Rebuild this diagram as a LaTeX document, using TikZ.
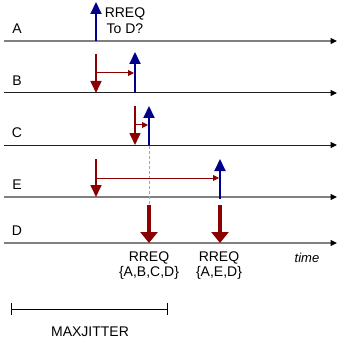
\documentclass[tikz,border=0pt]{standalone}
\usepackage{fontspec}
\setmainfont{Liberation Sans}
\usetikzlibrary{arrows.meta}
\definecolor{dred}{HTML}{8B0000}
\definecolor{dblue}{HTML}{00008B}
\definecolor{lgray}{HTML}{808080}
\definecolor{dgray}{HTML}{202020}
\begin{document}
\begin{tikzpicture}[x=1pt,y=-1pt,
  tl/.style={line width=1.3pt, -{Triangle[length=6.5pt,width=6pt,color=black]}},
  lbl/.style={font=\fontsize{14}{15.5}\selectfont, inner sep=0pt, align=center},
  recv/.style={draw=dred, line width=1.6pt, -{Triangle[length=12pt,width=11pt]}},
  send/.style={draw=dblue, line width=2pt, -{Triangle[length=12pt,width=11pt]}},
  wait/.style={draw=dred, line width=1pt, -{Triangle[length=6pt,width=6pt]}},
  deliver/.style={draw=dred, line width=3.8pt, -{Triangle[length=11pt,width=17pt]}},
  guide/.style={draw=gray!70, line width=0.8pt, dash pattern=on 3pt off 2pt}]
\useasboundingbox (0,0) rectangle (338,339);
% timelines
\foreach \n/\y/\c/\w in {A/41/lgray/1.3pt,B/93/dgray/1pt,C/145/dgray/1pt,E/197/lgray/1.3pt,D/243/lgray/1.3pt}{
  \coordinate (\n0) at (4,\y);
  \coordinate (\n1) at (337,\y);
  \draw[tl, draw=\c, line width=\w] (\n0) -- (\n1);
  \node[lbl] (lab\n) at (17,\y-12.5) {\n};
}
% A
\coordinate (aS0) at (96,41); \coordinate (aS1) at (96,2);
\draw[send] (aS0) -- (aS1);
\node[lbl] (txtA) at (125,20.5) {RREQ\\To D?};
% B
\coordinate (bR0) at (96,54); \coordinate (bR1) at (96,93);
\draw[recv] (bR0) -- (bR1);
\coordinate (bW0) at (96,73); \coordinate (bW1) at (134,73);
\draw[wait] (bW0) -- (bW1);
\coordinate (bS0) at (135,93); \coordinate (bS1) at (135,52);
\draw[send] (bS0) -- (bS1);
% C
\coordinate (cR0) at (135,106); \coordinate (cR1) at (135,145);
\draw[recv] (cR0) -- (cR1);
\coordinate (cW0) at (135,125); \coordinate (cW1) at (148,125);
\draw[wait] (cW0) -- (cW1);
\coordinate (cS0) at (149,145); \coordinate (cS1) at (149,106);
\draw[send] (cS0) -- (cS1);
\coordinate (g0) at (149,146); \coordinate (g1) at (149,205);
\draw[guide] (g0) -- (g1);
% E
\coordinate (eR0) at (96,159); \coordinate (eR1) at (96,197);
\draw[recv] (eR0) -- (eR1);
\coordinate (eW0) at (96,178); \coordinate (eW1) at (219,178);
\draw[wait] (eW0) -- (eW1);
\coordinate (eS0) at (220,199); \coordinate (eS1) at (220,159);
\draw[send] (eS0) -- (eS1);
% D
\coordinate (d1a) at (149,205); \coordinate (d1b) at (149,243);
\draw[deliver] (d1a) -- (d1b);
\coordinate (d2a) at (220,205); \coordinate (d2b) at (220,243);
\draw[deliver] (d2a) -- (d2b);
\node[lbl] (txtD1) at (149,265.5) {RREQ\\\{A,B,C,D\}};
\node[lbl] (txtD2) at (219,265.5) {RREQ\\\{A,E,D\}};
\node[lbl, font=\fontsize{13}{15}\selectfont\itshape] (time) at (307,258) {time};
% maxjitter
\coordinate (m0) at (11,309); \coordinate (m1) at (168,309);
\draw[line width=1pt, {Bar[width=12pt]}-{Bar[width=12pt]}] (m0) -- (m1);
\node[lbl] (mj) at (90,332) {MAXJITTER};
\end{tikzpicture}
\end{document}
